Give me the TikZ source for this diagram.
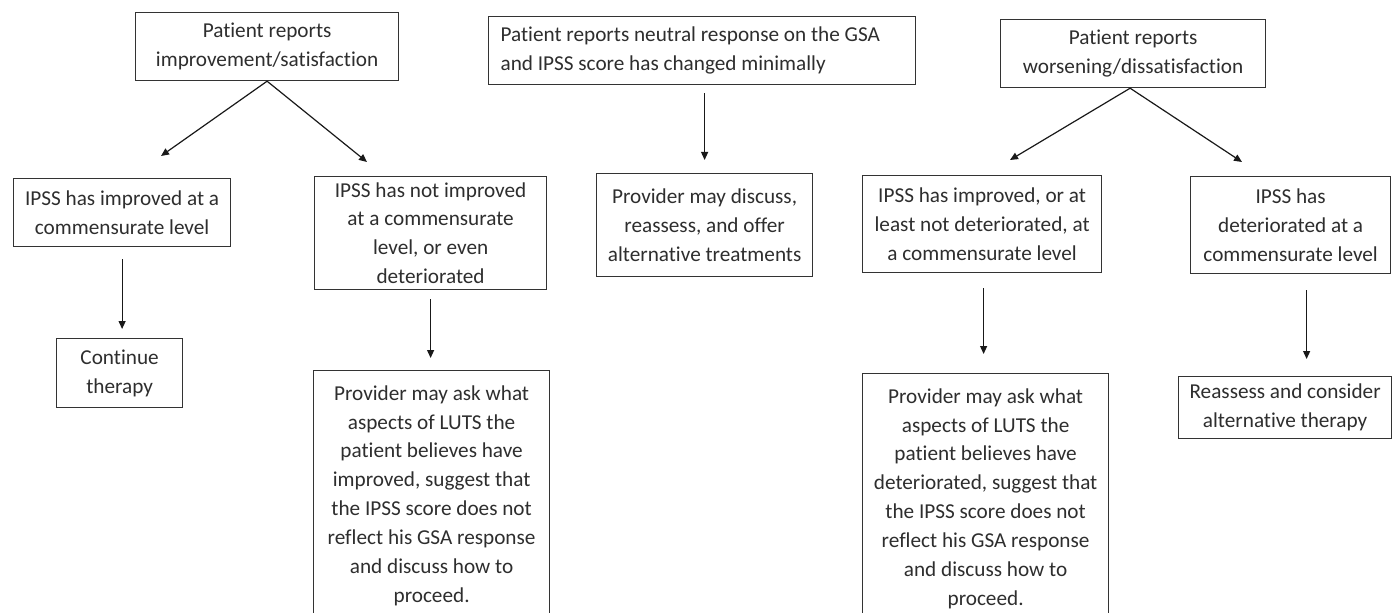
\documentclass[tikz,border=0pt]{standalone}
\usepackage{fontspec}
\setmainfont{Carlito}[Ligatures=NoCommon]
\usetikzlibrary{arrows.meta}
\begin{document}
\begin{tikzpicture}[x=1bp,y=-1bp,
  box/.style={draw=black!80, line width=1.2bp, text=black!82, align=center, inner sep=0pt,
    font=\fontsize{21.3}{29}\selectfont, anchor=north west},
  arr/.style={draw=black!90, line width=1.2bp, -{Triangle[length=8bp,width=7bp]}}]
\useasboundingbox (0,0) rectangle (1392,613);
\clip (0,0) rectangle (1392,613);
\fill[white] (0,0) rectangle (1392,613);

% top row
\node[box, minimum width=263bp, minimum height=68bp] (A) at (135,12) {Patient reports\\improvement/satisfaction};
\node[box, align=flush left, text width=403bp, inner xsep=12bp, minimum width=427bp, minimum height=68bp] (M) at (488,16)
  {Patient reports neutral response on the GSA\\and IPSS score has changed minimally};
\node[box, minimum width=265bp, minimum height=68bp] (W) at (1000,19) {Patient reports\\worsening/dissatisfaction};

% second row
\node[box, minimum width=217bp, minimum height=68bp] (B) at (13,178) {IPSS has improved at a\\commensurate level};
\node[box, minimum width=232bp, minimum height=113bp] (C) at (314,176) {IPSS has not improved\\at a commensurate\\level, or even\\deteriorated};
\node[box, minimum width=216bp, minimum height=103bp] (N) at (596,173) {Provider may discuss,\\reassess, and offer\\alternative treatments};
\node[box, minimum width=239bp, minimum height=97bp] (E) at (862,175) {IPSS has improved, or at\\least not deteriorated, at\\a commensurate level};
\node[box, minimum width=200bp, minimum height=97bp] (F) at (1190,176) {IPSS has\\deteriorated at a\\commensurate level};

% third row
\node[box, minimum width=126bp, minimum height=69bp] (Cont) at (56,338) {Continue\\therapy};
\node[box, minimum width=236bp, minimum height=250bp] (D) at (313,370)
  {Provider may ask what\\aspects of LUTS the\\patient believes have\\improved, suggest that\\the IPSS score does not\\reflect his GSA response\\and discuss how to\\proceed.};
\node[box, minimum width=246bp, minimum height=250bp] (G) at (862,373)
  {Provider may ask what\\aspects of LUTS the\\patient believes have\\deteriorated, suggest that\\the IPSS score does not\\reflect his GSA response\\and discuss how to\\proceed.};
\node[box, minimum width=213bp, minimum height=62bp] (H) at (1178,376) {Reassess and consider\\alternative therapy};

% connectors
\coordinate (ab) at (161,156);
\coordinate (ac) at (367,162);
\draw[arr] (A.south) -- (ab);
\draw[arr] (A.south) -- (ac);
\draw[arr, shorten <=12bp, shorten >=9bp] (B.south) -- (B.south |- Cont.north);
\draw[arr, shorten <=9bp, shorten >=12bp] (C.south) -- (C.south |- D.north);
\draw[arr, shorten <=8bp, shorten >=13bp] (N.north |- M.south) -- (N.north);
\coordinate (ws) at ([xshift=-3bp]W.south);
\coordinate (we) at (1010,160);
\coordinate (wf) at (1242,162);
\draw[arr] (ws) -- (we);
\draw[arr] (ws) -- (wf);
\coordinate (eg) at ([xshift=1.5bp]E.south);
\draw[arr, shorten <=15bp, shorten >=19bp] (eg) -- (eg |- G.north);
\coordinate (fh) at ([xshift=16bp]F.south);
\draw[arr, shorten <=16bp, shorten >=17bp] (fh) -- (fh |- H.north);
\end{tikzpicture}
\end{document}
